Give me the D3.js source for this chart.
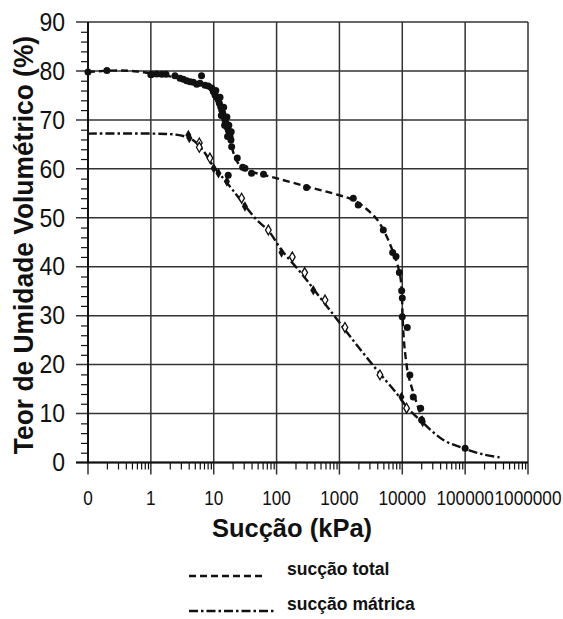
<!DOCTYPE html>
<html>
<head>
<meta charset="utf-8">
<script src="https://cdn.jsdelivr.net/npm/d3@7/dist/d3.min.js"></script>
<style>
  html, body { margin: 0; padding: 0; background: #fff; }
  svg { display: block; font-family: "Liberation Sans", Arial, sans-serif; }
</style>
</head>
<body>
<svg id="chart" width="563" height="619"></svg>
<script>
// Decade ticks of the suction axis and their printed labels
const xTickValues = [0.1, 1, 10, 100, 1000, 10000, 100000, 1000000];
const xTickLabels = ["0", "1", "10", "100", "1000", "10000", "100000", "1000000"];
const yTickValues = [0, 10, 20, 30, 40, 50, 60, 70, 80, 90];

// Total suction: fitted curve [kPa, %]
const totalCurve = [
  [0.1, 79.8], [0.3, 80.1], [0.6, 79.9], [1, 79.5], [2, 78.9], [4, 78.0],
  [6, 77.3], [8, 76.6], [10, 75.3], [12, 73.2], [14, 70.9], [16, 68.5],
  [18, 66.3], [19.5, 64.4], [21, 62.9], [24, 61.3], [28, 60.3], [40, 59.4],
  [80, 58.4], [300, 56.4], [1000, 54.6], [1700, 53.6], [2700, 51.8],
  [4000, 49.6], [5500, 46.5], [7000, 43.3], [8300, 40.6], [9300, 38.0], [9800, 35.0],
  [10100, 30.0], [10600, 25.0], [11300, 21.5], [12300, 18.2], [14000, 15.5],
  [17000, 12.1], [20300, 9.4], [23000, 8.2]
];

// Total suction: measured points [kPa, %]
const totalPoints = [
  [0.1, 79.8], [0.2, 80.1], [1.0, 79.2], [1.03, 79.3], [1.24, 79.4], [1.49, 79.3],
  [1.74, 79.3], [2.42, 79.0], [2.91, 78.5], [3.28, 78.3], [3.71, 78.0], [4.2, 77.8],
  [4.73, 77.7], [5.36, 77.3], [6.05, 77.5], [6.4, 79.0], [7.27, 77.1], [8.2, 76.9],
  [9.3, 76.5], [9.85, 75.8], [10.47, 75.1], [11.1, 74.7], [11.8, 74.1], [12.3, 73.4],
  [12.9, 72.7], [13.4, 72.0], [13.9, 71.4], [14.6, 70.7], [15.1, 70.0], [15.7, 69.3],
  [16.1, 68.6], [17.1, 67.9], [17.7, 67.3], [18.2, 66.6], [18.8, 65.9], [19.3, 64.5],
  [12.6, 74.6], [14.4, 72.6], [13.2, 70.9], [16.2, 70.6], [14.9, 68.9], [17.4, 68.9],
  [16.6, 66.6], [19.0, 67.6], [10.8, 76.0], [17.0, 58.7],
  [23.7, 62.2], [28.9, 60.3], [31.4, 60.1], [40, 59.1], [62, 58.9], [300, 56.2],
  [1660, 54.0], [1995, 52.6], [4990, 47.5], [7030, 42.9], [7940, 42.1], [8980, 38.8],
  [9770, 35.1], [10000, 33.6], [10000, 29.8], [12000, 27.6], [13200, 17.9],
  [14960, 13.4], [19600, 11.1], [20300, 8.7], [100000, 2.9]
];

// Matric suction: fitted curve [kPa, %]
const matricCurve = [
  [0.1, 67.2], [1, 67.2], [2.5, 67.0], [3.5, 66.6], [5, 65.6], [7, 63.5],
  [10, 60.4], [15, 57.7], [20, 55.7], [30, 52.8], [48, 49.6], [75, 47.3],
  [120, 43.4], [250, 38.6], [500, 33.6], [1000, 28.6], [2000, 23.6],
  [4000, 18.8], [8500, 13.8], [12000, 11.2], [21000, 8.2], [45000, 4.6],
  [100000, 2.8], [200000, 1.6], [380000, 1.0]
];

// Matric suction: measured points, solid and hollow markers [kPa, %]
const matricSolid = [
  [3.95, 66.9], [4.1, 66.3], [10, 60.1], [11.9, 59.1], [16.2, 57.4], [31.4, 52.3],
  [120, 42.9], [384, 35.2], [9700, 13.4], [21100, 8.3]
];
const matricHollow = [
  [5.9, 65.3], [5.9, 64.4], [8.7, 62.2], [27.8, 54.0], [74, 47.5], [178, 42.0],
  [280, 38.8], [590, 33.2], [1225, 27.6], [4410, 17.9], [11700, 11.1]
];

const legendLabels = ["sucção total", "sucção mátrica"];

const svg = d3.select("#chart");
const plotLeft = 88, plotRight = 528, plotTop = 22, plotBottom = 462.5;

const x = d3.scaleLog().domain([0.1, 1000000]).range([plotLeft, plotRight]);
const y = d3.scaleLinear().domain([0, 90]).range([plotBottom, plotTop]);

const gridColor = "#333";
const ink = "#111";

// Horizontal grid (extends left over the major ticks)
svg.append("g").selectAll("line").data(yTickValues).join("line")
  .attr("x1", plotLeft - 12).attr("x2", plotRight)
  .attr("y1", d => y(d)).attr("y2", d => y(d))
  .attr("stroke", gridColor).attr("stroke-width", 1.5);

// Vertical grid (extends below over the major ticks)
svg.append("g").selectAll("line").data(xTickValues).join("line")
  .attr("x1", d => x(d)).attr("x2", d => x(d))
  .attr("y1", plotTop).attr("y2", plotBottom + 12)
  .attr("stroke", gridColor).attr("stroke-width", 1.5);

// Minor ticks on the log axis (2..9 in every decade)
const xMinor = [];
for (let e = -1; e < 6; e++) for (let m = 2; m <= 9; m++) xMinor.push(m * Math.pow(10, e));
const xMinorAxis = d3.axisBottom(x).tickValues(xMinor).tickSize(7).tickFormat("");
svg.append("g").attr("transform", `translate(0,${plotBottom})`).call(xMinorAxis)
  .call(g => g.select(".domain").remove())
  .call(g => g.selectAll("line").attr("stroke", ink).attr("stroke-width", 1.2));

// Minor ticks on the moisture axis (every 2 %)
const yMinor = d3.range(2, 90, 2).filter(v => v % 10 !== 0);
const yMinorAxis = d3.axisLeft(y).tickValues(yMinor).tickSize(7).tickFormat("");
svg.append("g").attr("transform", `translate(${plotLeft},0)`).call(yMinorAxis)
  .call(g => g.select(".domain").remove())
  .call(g => g.selectAll("line").attr("stroke", ink).attr("stroke-width", 1.2));

// Axis lines
svg.append("line").attr("x1", plotLeft).attr("x2", plotLeft).attr("y1", plotTop).attr("y2", plotBottom + 1)
  .attr("stroke", ink).attr("stroke-width", 2);
svg.append("line").attr("x1", plotLeft - 12).attr("x2", plotRight).attr("y1", plotBottom).attr("y2", plotBottom)
  .attr("stroke", ink).attr("stroke-width", 2.2);

// Tick labels
svg.append("g").selectAll("g").data(xTickValues).join("g")
  .attr("transform", d => `translate(${x(d)},505) scale(0.86,1)`)
  .append("text")
  .attr("text-anchor", "middle")
  .attr("font-size", 20)
  .attr("fill", ink)
  .text((d, i) => xTickLabels[i]);

svg.append("g").selectAll("g").data(yTickValues).join("g")
  .attr("transform", d => `translate(65,${y(d)}) scale(0.92,1)`)
  .append("text")
  .attr("text-anchor", "end")
  .attr("dy", "0.35em")
  .attr("font-size", 25)
  .attr("fill", ink)
  .text(d => d);

// Axis titles
svg.append("text")
  .attr("transform", `translate(33,245) rotate(-90) scale(0.96,1)`)
  .attr("text-anchor", "middle")
  .attr("font-size", 27.5)
  .attr("font-weight", "bold")
  .attr("fill", ink)
  .text("Teor de Umidade Volumétrico (%)");

svg.append("text")
  .attr("x", 292).attr("y", 537)
  .attr("text-anchor", "middle")
  .attr("font-size", 25.5)
  .attr("font-weight", "bold")
  .attr("fill", ink)
  .text("Sucção (kPa)");

// Curves
const line = d3.line().x(d => x(d[0])).y(d => y(d[1])).curve(d3.curveCatmullRom.alpha(0.5));
const dashTotal = "7,4";
const dashMatric = "9,3,2.5,3";

svg.append("path").datum(matricCurve).attr("d", line)
  .attr("fill", "none").attr("stroke", ink).attr("stroke-width", 2.4)
  .attr("stroke-dasharray", dashMatric);

svg.append("path").datum(totalCurve).attr("d", line)
  .attr("fill", "none").attr("stroke", ink).attr("stroke-width", 2.4)
  .attr("stroke-dasharray", dashTotal);

// Markers
svg.append("g").selectAll("circle").data(totalPoints).join("circle")
  .attr("cx", d => x(d[0])).attr("cy", d => y(d[1])).attr("r", 3.5)
  .attr("fill", ink);

const diamond = d3.symbol().type(d3.symbolDiamond);
svg.append("g").selectAll("path").data(matricSolid).join("path")
  .attr("transform", d => `translate(${x(d[0])},${y(d[1])})`)
  .attr("d", diamond.size(32)())
  .attr("fill", ink);

svg.append("g").selectAll("path").data(matricHollow).join("path")
  .attr("transform", d => `translate(${x(d[0])},${y(d[1])})`)
  .attr("d", diamond.size(28)())
  .attr("fill", "#fff").attr("stroke", ink).attr("stroke-width", 1.3);

// Legend
const legend = svg.append("g");
const legendRows = [
  { y: 576, dash: dashTotal, x2: 266 },
  { y: 611, dash: dashMatric, x2: 274 }
];
legendRows.forEach((r, i) => {
  legend.append("line")
    .attr("x1", 189).attr("x2", r.x2).attr("y1", r.y).attr("y2", r.y)
    .attr("stroke", ink).attr("stroke-width", 2.4).attr("stroke-dasharray", r.dash);
  legend.append("g").attr("transform", `translate(287,${r.y - 1}) scale(0.95,1)`)
    .append("text")
    .attr("font-size", 18.5).attr("font-weight", "bold").attr("fill", ink)
    .text(legendLabels[i]);
});
</script>
</body>
</html>
